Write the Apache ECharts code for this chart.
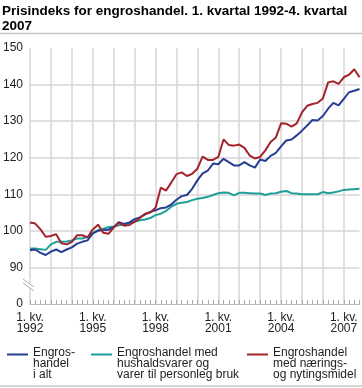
<!DOCTYPE html>
<html><head><meta charset="utf-8">
<script src="https://cdn.jsdelivr.net/npm/echarts@6/dist/echarts.min.js"></script>
<style>html,body{margin:0;padding:0;background:#fff}#c{width:362px;height:388px}</style>
</head><body><div id="c"></div>
<script>
const FONT = '"Liberation Sans", Arial, Helvetica, sans-serif';
const years = [1992,1993,1994,1995,1996,1997,1998,1999,2000,2001,2002,2003,2004,2005,2006,2007];
const categories = [];
years.forEach(y => [1,2,3,4].forEach(q => categories.push(q + '. kv. ' + y)));

const seriesNames = ['Engroshandel i alt', 'Engroshandel med hushaldsvarer og varer til personleg bruk', 'Engroshandel med nærings- og nytingsmidel'];
const legendLabels = ['Engros-\nhandel\ni alt', 'Engroshandel med\nhushaldsvarer og\nvarer til personleg bruk', 'Engroshandel\nmed nærings-\nog nytingsmidel'];

const engrosIAlt = [
 94.7,94.9,94.0,93.4, 94.3,94.9,94.2,94.9, 95.5,96.5,97.0,97.4, 99.3,100.0,100.2,100.3,
 101.0,102.4,101.9,102.3, 103.2,103.7,104.5,105.2, 105.6,106.2,106.4,107.2, 108.5,109.5,109.8,111.5,
 113.8,115.7,116.5,118.4, 118.2,119.7,118.8,117.9, 117.9,118.8,117.9,117.3, 119.5,119.1,120.5,121.3,
 123.1,124.7,125.0,126.1, 127.4,128.8,130.3,130.2, 131.4,133.4,135.0,134.3, 136.1,137.9,138.3,138.8
];
const hushaldsvarer = [
 95.2,95.2,95.0,94.8, 96.3,97.0,97.0,97.1, 97.4,97.9,97.9,98.3, 99.4,100.2,100.6,101.0,
 101.2,101.5,101.8,102.1, 102.5,102.9,103.1,103.5, 104.3,104.7,105.4,106.6, 107.4,107.7,107.9,108.4,
 108.8,109.0,109.3,109.8, 110.3,110.5,110.4,109.7, 110.4,110.4,110.3,110.2, 110.2,109.8,110.2,110.3,
 110.7,110.9,110.3,110.2, 110.0,110.0,110.0,110.0, 110.6,110.3,110.5,110.8, 111.2,111.3,111.4,111.5
];
const naeringsmidel = [
 102.3,102.0,100.4,98.4, 98.6,99.1,96.6,96.3, 97.0,98.8,98.8,98.2, 100.4,101.7,99.5,99.2,
 100.9,102.2,101.4,101.6, 102.5,103.5,104.7,105.0, 106.3,111.8,111.0,113.2, 115.5,116.0,115.0,115.6,
 117.0,120.3,119.4,119.4, 120.2,125.0,123.5,123.3, 123.6,122.7,120.6,119.8, 120.2,122.0,124.3,125.5,
 129.4,129.3,128.5,129.4, 132.4,134.2,134.7,135.0, 136.2,140.6,140.9,140.2, 142.0,142.7,144.2,142.0
];
const yMin = 80, yMax = 150, yStep = 10;
const yBreakLabel = '0';

const colors = ['#263d93', '#1f9e99', '#a3222b'];
const gridColor = '#d6d6d6';
const icon = 'path://M0,0h21v2h-21zM20.99,19.99h0.01v0.01h-0.01z';

function legendFor(i, left) {
  return {
    data: [seriesNames[i]], left: left, top: 346.5, padding: 0,
    orient: 'horizontal', selectedMode: false,
    itemWidth: 21, itemHeight: 20, icon: icon,
    formatter: () => legendLabels[i],
    textStyle: { fontSize: 12, lineHeight: 11, color: '#222', fontFamily: FONT }
  };
}

const chart = echarts.init(document.getElementById('c'), null, { renderer: 'canvas' });
chart.setOption({
  animation: false,
  backgroundColor: '#fff',
  title: {
    text: 'Prisindeks for engroshandel. 1. kvartal 1992-4. kvartal\n2007',
    left: 2, top: 4, padding: 0,
    textStyle: { fontSize: 13.5, fontWeight: 'bold', lineHeight: 15, color: '#000', fontFamily: FONT }
  },
  legend: [legendFor(0, 7), legendFor(1, 91), legendFor(2, 247)],
  grid: { left: 29, right: 2.5, top: 48, bottom: 84 },
  xAxis: {
    type: 'category', data: categories, boundaryGap: false,
    axisLine: { show: true, lineStyle: { color: '#bbbbbb', width: 1 } },
    axisTick: { show: true, inside: true, interval: 0, length: 4, lineStyle: { color: '#aaaaaa' } },
    axisLabel: {
      interval: (i) => i % 12 === 0,
      formatter: (v) => v.replace(/ (\d{4})$/, '\n$1'),
      margin: 8, fontSize: 12, lineHeight: 11, color: '#222', fontFamily: FONT
    },
    splitLine: { show: true, interval: (i) => i % 4 === 0, lineStyle: { color: gridColor, width: 1.5 } }
  },
  yAxis: {
    type: 'value', min: yMin, max: yMax, interval: yStep,
    axisLine: { show: false }, axisTick: { show: false },
    axisLabel: { margin: 7, fontSize: 12, color: '#222', fontFamily: FONT,
      formatter: (v) => v === yMin ? yBreakLabel : String(v) },
    splitLine: { lineStyle: { color: ['transparent', gridColor, gridColor, gridColor, gridColor, gridColor, gridColor, 'transparent'], width: 1.5 } }
  },
  series: [
    { name: seriesNames[0], type: 'line', data: engrosIAlt, showSymbol: false, lineStyle: { width: 2, color: colors[0] }, itemStyle: { color: colors[0] }, z: 4 },
    { name: seriesNames[1], type: 'line', data: hushaldsvarer, showSymbol: false, lineStyle: { width: 2, color: colors[1] }, itemStyle: { color: colors[1] }, z: 3 },
    { name: seriesNames[2], type: 'line', data: naeringsmidel, showSymbol: false, lineStyle: { width: 2, color: colors[2] }, itemStyle: { color: colors[2] }, z: 5 }
  ],
  graphic: [
    { type: 'line', shape: { x1: 0, y1: 33.5, x2: 362, y2: 33.5 }, style: { stroke: '#c8c8c8', lineWidth: 1.5 } },
    { type: 'line', shape: { x1: 0, y1: 386, x2: 362, y2: 386 }, style: { stroke: '#c8c8c8', lineWidth: 1.5 } },
    { type: 'polygon', shape: { points: [[23, 279], [34, 287], [34, 291], [23, 283]] }, style: { fill: '#fff' }, z: 10 },
    { type: 'line', shape: { x1: 23, y1: 279, x2: 34, y2: 287 }, style: { stroke: '#b0b0b0', lineWidth: 1 }, z: 11 },
    { type: 'line', shape: { x1: 23, y1: 283, x2: 34, y2: 291 }, style: { stroke: '#b0b0b0', lineWidth: 1 }, z: 11 }
  ]
});
</script></body></html>
